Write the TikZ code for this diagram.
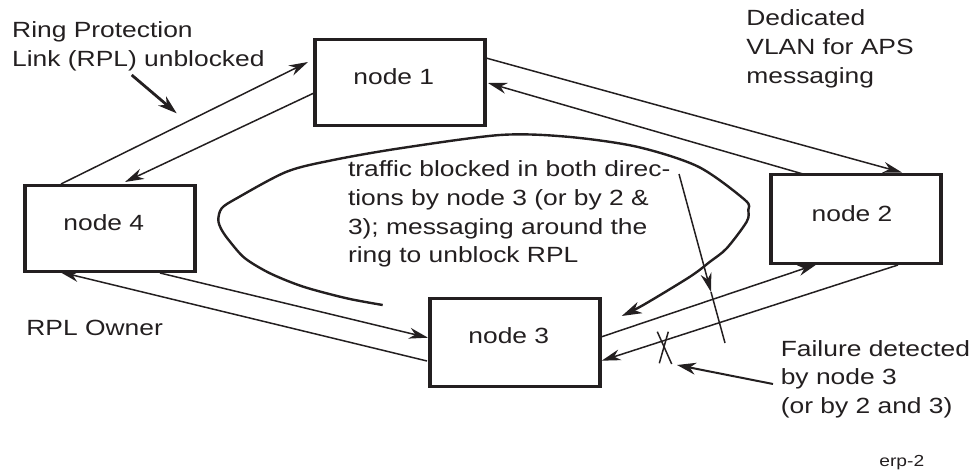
\documentclass[tikz,border=0pt]{standalone}
\usepackage{fontspec}
\setmainfont[FakeStretch=1.2]{Liberation Sans}
\usetikzlibrary{arrows.meta}
\definecolor{ink}{HTML}{231F20}
\begin{document}
\begin{tikzpicture}[x=1pt,y=-1pt,
  box/.style={draw=ink, line width=3.4pt, minimum width=170pt, inner sep=0pt, outer sep=0pt},
  lbl/.style={inner sep=0pt, anchor=base west, text=ink, align=left,
              font=\fontsize{22}{28.7}\selectfont},
  tiny/.style={inner sep=0pt, anchor=base west, text=ink,
              font=\fontsize{16}{19}\selectfont},
  head/.style={-{Stealth[length=19pt,width=11pt,inset=6pt]}},
  link/.style={draw=ink, line width=1.5pt, head},
  loopline/.style={draw=ink, line width=2.4pt, line join=round,
                   -{Stealth[length=20pt,width=12pt,inset=6pt]}},
  pointer/.style={draw=ink, line width=2.8pt,
                  -{Stealth[length=19pt,width=12pt,inset=6pt]}},
  thinline/.style={draw=ink, line width=1.5pt}]

\useasboundingbox (0,0) rectangle (974,473);

% ring nodes
\node[box, minimum height=86pt] (n1) at (400,82.5) {};
\node[box, minimum height=86pt] (n4) at (110,228.5) {};
\node[box, minimum height=88pt] (n3) at (515,342.5) {};
\node[box, minimum height=89pt] (n2) at (856,219) {};

\node[lbl] (n1t) at (353.2,85) {node 1};
\node[lbl] (n4t) at (63.2,230.5) {node 4};
\node[lbl] (n3t) at (468.2,343.3) {node 3};
\node[lbl] (n2t) at (811.5,221.7) {node 2};

% ring links, one per direction
\draw[link] ([shift={(-49,-1.5)}]n4.north) -- ([shift={(-7,-20.5)}]n1.west);
\draw[link] ([shift={(-1,10.5)}]n1.west) -- ([shift={(15,-3.5)}]n4.north);
\draw[link] ([shift={(1,-24.5)}]n1.east) -- ([shift={(46,-2)}]n2.north);
\draw[link] ([shift={(-53,-0.5)}]n2.north) -- ([shift={(3,0.5)}]n1.east);
\draw[link] ([shift={(50,1.5)}]n4.south) -- ([shift={(-2,-4.8)}]n3.west);
\draw[link] ([shift={(-3,18.5)}]n3.west) -- ([shift={(-50,0.5)}]n4.south);
\draw[link] ([shift={(1,-5.5)}]n3.east) -- ([shift={(-39.3,0.8)}]n2.south);
\draw[link] ([shift={(42,1.5)}]n2.south) -- ([shift={(1.7,18.2)}]n3.east);

% messaging path around the ring
\draw[loopline] plot[smooth, tension=0.5] coordinates {
  (382.7,305) (346.7,298.3) (303.3,286.7) (270,273.3) (245,258.3)
  (230,241.7) (221.7,230) (218.3,220) (221.7,208.3) (236.7,198.3)
  (286.7,171.7) (333.3,160) (400,148.3) (500,135) (566.7,136.7)
  (636.7,146.7) (698.3,166.7) (745,200) (748.3,210) (746.7,221.7)
  (726.7,248.3) (710,261.7) (690,276.7) (643.3,305) (621.7,316)};

% blocking marker
\coordinate (b1) at (679,174);
\coordinate (b2) at (711,292);
\coordinate (b3) at (725,343);
\draw[thinline, head] (b1) -- (b2);
\draw[thinline] (b2) -- (b3);

% failure mark
\coordinate (x1) at (657.3,331.7);
\coordinate (x2) at (671.7,364);
\coordinate (x3) at (668.3,331.7);
\coordinate (x4) at (659.3,363.3);
\draw[thinline] (x1) -- (x2);
\draw[thinline] (x3) -- (x4);

% annotation pointers
\coordinate (p1s) at (131.7,75);
\coordinate (p1e) at (176.7,113.3);
\draw[pointer] (p1s) -- (p1e);
\coordinate (p2s) at (773,384);
\coordinate (p2e) at (677,365);
\draw[pointer, line width=2pt] (p2s) -- (p2e);

% annotations (multi-line nodes sit on the baseline of their last line)
\node[lbl] (t1) at (12,66.5) {Ring Protection\\Link (RPL) unblocked};
\node[lbl] (t2) at (746.2,83.4) {Dedicated\\VLAN for APS\\messaging};
\node[lbl] (t3) at (347.8,262.8) {traffic blocked in both direc-\\tions by node 3 (or by 2 \&\\3); messaging around the\\ring to unblock RPL};
\node[lbl] (t4) at (26.2,335) {RPL Owner};
\node[lbl] (t5) at (780.6,413.4) {Failure detected\\by node 3\\(or by 2 and 3)};
\node[tiny] (t6) at (879.2,466.7) {erp-2};
\end{tikzpicture}
\end{document}
